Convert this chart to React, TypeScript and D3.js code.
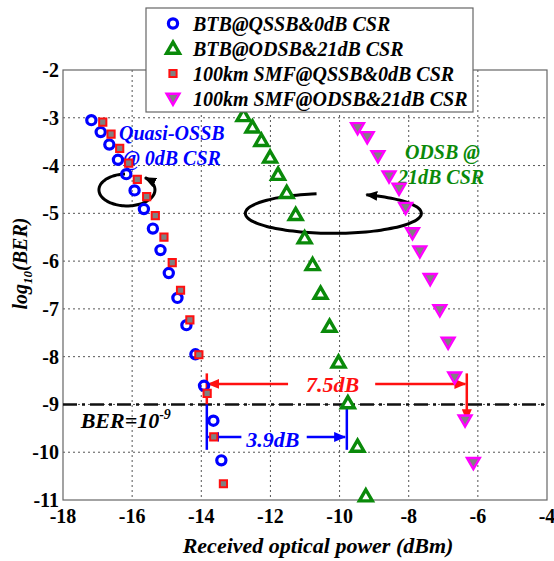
import React, { useEffect, useRef } from 'react';
import * as d3 from 'd3';

// series (x: received power dBm, y: log10 BER)
const btbQssbX = [-17.18, -16.91, -16.66, -16.41, -16.17, -15.93, -15.66, -15.4, -15.18, -14.94, -14.69, -14.43, -14.17, -13.92, -13.65, -13.42];
const btbQssbY = [-3.05, -3.3, -3.56, -3.88, -4.18, -4.52, -4.91, -5.32, -5.77, -6.25, -6.77, -7.34, -7.95, -8.61, -9.34, -10.17];

const btbOdsbX = [-12.78, -12.52, -12.26, -12.01, -11.78, -11.53, -11.27, -11.01, -10.78, -10.55, -10.29, -10.03, -9.76, -9.48, -9.24];
const btbOdsbY = [-2.96, -3.2, -3.48, -3.83, -4.19, -4.57, -5.03, -5.52, -6.08, -6.68, -7.37, -8.12, -8.97, -9.88, -10.92];

const smfQssbX = [-16.85, -16.61, -16.36, -16.1, -15.85, -15.58, -15.33, -15.08, -14.84, -14.6, -14.33, -14.07, -13.83, -13.64, -13.36];
const smfQssbY = [-3.09, -3.34, -3.64, -3.95, -4.29, -4.65, -5.05, -5.5, -6.03, -6.61, -7.23, -7.96, -8.77, -9.68, -10.66];

const smfOdsbX = [-9.48, -9.2, -8.89, -8.57, -8.28, -8.09, -7.89, -7.68, -7.38, -7.1, -6.86, -6.67, -6.37, -6.13];
const smfOdsbY = [-3.21, -3.4, -3.8, -4.22, -4.48, -4.88, -5.41, -5.79, -6.37, -7.02, -7.7, -8.43, -9.33, -10.22];

const xTicks = [-18, -16, -14, -12, -10, -8, -6, -4];
const yTicks = [-2, -3, -4, -5, -6, -7, -8, -9, -10, -11];

const legendLabels = [
  'BTB@QSSB&0dB CSR',
  'BTB@ODSB&21dB CSR',
  '100km SMF@QSSB&0dB CSR',
  '100km SMF@ODSB&21dB CSR',
];

const FONT = '"Liberation Serif", "Times New Roman", serif';
const BLUE = '#0000ff';
const GREEN = '#0a8a0a';
const RED = '#ff1010';
const MAGENTA = '#ff00ff';
const GRAY = '#808080';

const App = () => {
  const svgRef = useRef();

  useEffect(() => {
    const svg = d3.select(svgRef.current);
    svg.selectAll('*').remove();

    const left = 63, right = 547, top = 70, bottom = 500;
    const x = d3.scaleLinear().domain([-18, -4]).range([left, right]);
    const y = d3.scaleLinear().domain([-11, -2]).range([bottom, top]);

    // arrow heads
    const defs = svg.append('defs');
    [['arrRed', RED], ['arrBlue', BLUE], ['arrBlack', '#000']].forEach(([id, c]) => {
      defs.append('marker')
        .attr('id', id)
        .attr('viewBox', '0 0 12 10')
        .attr('refX', 11).attr('refY', 5)
        .attr('markerWidth', 12).attr('markerHeight', 10)
        .attr('markerUnits', 'userSpaceOnUse')
        .attr('orient', 'auto')
        .append('path')
        .attr('d', 'M0,0 L12,5 L0,10 Z')
        .attr('fill', c);
    });

    svg.append('rect')
      .attr('x', 0).attr('y', 0).attr('width', 554).attr('height', 561)
      .attr('fill', '#fff');

    // grid
    const grid = svg.append('g')
      .attr('stroke', '#555').attr('stroke-width', 1).attr('stroke-dasharray', '2,3');
    xTicks.slice(1, -1).forEach(t => {
      grid.append('line')
        .attr('x1', x(t)).attr('x2', x(t)).attr('y1', top).attr('y2', bottom);
    });
    yTicks.slice(1, -1).forEach(t => {
      grid.append('line')
        .attr('x1', left).attr('x2', right).attr('y1', y(t)).attr('y2', y(t));
    });

    // frame
    svg.append('rect')
      .attr('x', left).attr('y', top)
      .attr('width', right - left).attr('height', bottom - top)
      .attr('fill', 'none').attr('stroke', '#666').attr('stroke-width', 1.2);

    // tick labels
    svg.append('g').selectAll('text')
      .data(xTicks).enter().append('text')
      .attr('x', d => x(d)).attr('y', bottom + 23)
      .attr('text-anchor', 'middle')
      .attr('font-family', FONT).attr('font-weight', 'bold').attr('font-size', 20)
      .text(d => d);
    svg.append('g').selectAll('text')
      .data(yTicks).enter().append('text')
      .attr('x', left - 4).attr('y', d => y(d) + 7)
      .attr('text-anchor', 'end')
      .attr('font-family', FONT).attr('font-weight', 'bold').attr('font-size', 20)
      .text(d => d);

    // axis titles
    svg.append('text')
      .attr('x', 318).attr('y', 553)
      .attr('text-anchor', 'middle')
      .attr('font-family', FONT).attr('font-weight', 'bold').attr('font-style', 'italic')
      .attr('font-size', 22)
      .text('Received optical power (dBm)');
    const yl = svg.append('text')
      .attr('transform', `translate(27, ${y(-6.05)}) rotate(-90)`)
      .attr('text-anchor', 'middle')
      .attr('font-family', FONT).attr('font-weight', 'bold').attr('font-style', 'italic')
      .attr('font-size', 20);
    yl.append('tspan').text('log');
    yl.append('tspan').attr('font-size', 13).attr('dy', 5).text('10');
    yl.append('tspan').attr('dy', -5).text('(BER)');

    // BER = 1e-9 line
    svg.append('line')
      .attr('x1', left).attr('x2', right).attr('y1', y(-9)).attr('y2', y(-9))
      .attr('stroke', '#111').attr('stroke-width', 2.6)
      .attr('stroke-dasharray', '14,5,3,5');
    const ber = svg.append('text')
      .attr('x', x(-17.49)).attr('y', y(-9.49))
      .attr('font-family', FONT).attr('font-weight', 'bold').attr('font-style', 'italic')
      .attr('font-size', 22);
    ber.append('tspan').text('BER=10');
    ber.append('tspan').attr('font-size', 14).attr('dy', -9).text('-9');

    // power penalty arrows
    const seg = (x1, y1, x2, y2, c, mk) => {
      const l = svg.append('line')
        .attr('x1', x(x1)).attr('y1', y(y1)).attr('x2', x(x2)).attr('y2', y(y2))
        .attr('stroke', c).attr('stroke-width', 2.5);
      if (mk) l.attr('marker-end', `url(#${mk})`);
    };
    seg(-13.84, -8.35, -13.84, -9.0, RED);
    seg(-11.49, -8.57, -13.8, -8.57, RED, 'arrRed');
    seg(-8.97, -8.57, -6.36, -8.57, RED, 'arrRed');
    seg(-6.32, -8.35, -6.32, -9.33, RED, 'arrRed');
    seg(-13.84, -9.0, -13.84, -9.95, BLUE);
    seg(-9.79, -9.0, -9.79, -9.95, BLUE);
    seg(-12.84, -9.68, -13.8, -9.68, BLUE, 'arrBlue');
    seg(-10.95, -9.68, -9.84, -9.68, BLUE, 'arrBlue');

    const label = (tx, ty, str, c, size, anchor = 'start') => {
      svg.append('text')
        .attr('x', x(tx)).attr('y', y(ty))
        .attr('text-anchor', anchor)
        .attr('font-family', FONT).attr('font-weight', 'bold').attr('font-style', 'italic')
        .attr('font-size', size).attr('fill', c)
        .text(str);
    };
    label(-10.2, -8.74, '7.5dB', RED, 22, 'middle');
    label(-11.93, -9.89, '3.9dB', BLUE, 22, 'middle');
    label(-16.38, -3.47, 'Quasi-OSSB', BLUE, 20);
    label(-16.26, -3.99, '@ 0dB CSR', BLUE, 20);
    label(-8.11, -3.87, 'ODSB @', GREEN, 20);
    label(-8.31, -4.39, '21dB CSR', GREEN, 20);

    // curled arrows
    const loop = (cx, cy, rx, ry, a0, a1) => {
      const pts = d3.range(0, 61).map(i => {
        const a = (a0 + (a1 - a0) * i / 60) * Math.PI / 180;
        return [x(cx) + rx * Math.cos(a), y(cy) + ry * Math.sin(a)];
      });
      svg.append('path')
        .attr('d', d3.line().curve(d3.curveCatmullRom)(pts))
        .attr('fill', 'none').attr('stroke', '#000').attr('stroke-width', 3)
        .attr('marker-end', 'url(#arrBlack)');
    };
    loop(-16.15, -4.51, 28, 16, 266, -50);
    loop(-10.18, -5.0, 88, 20, 259, -68);

    // markers
    const tri = d3.symbol(d3.symbolTriangle, 72)();
    const square = d3.symbol(d3.symbolSquare, 52)();

    const series = [
      { xs: btbQssbX, ys: btbQssbY, kind: 'circle' },
      { xs: smfQssbX, ys: smfQssbY, kind: 'square' },
      { xs: btbOdsbX, ys: btbOdsbY, kind: 'tri' },
      { xs: smfOdsbX, ys: smfOdsbY, kind: 'itri' },
    ];

    const drawMark = (g, kind, px, py) => {
      if (kind === 'circle') {
        g.append('circle').attr('cx', px).attr('cy', py).attr('r', 4.6)
          .attr('fill', 'none').attr('stroke', BLUE).attr('stroke-width', 3.2);
      } else if (kind === 'square') {
        g.append('path').attr('d', square).attr('transform', `translate(${px},${py})`)
          .attr('fill', GRAY).attr('stroke', RED).attr('stroke-width', 2);
      } else if (kind === 'tri') {
        g.append('path').attr('d', tri).attr('transform', `translate(${px},${py + 1})`)
          .attr('fill', '#fff').attr('stroke', GREEN).attr('stroke-width', 3.4)
          .attr('stroke-linejoin', 'miter');
      } else {
        g.append('path').attr('d', tri).attr('transform', `translate(${px},${py - 1}) rotate(180)`)
          .attr('fill', GRAY).attr('stroke', MAGENTA).attr('stroke-width', 2.4);
      }
    };

    const marks = svg.append('g');
    series.forEach(s => {
      s.xs.forEach((v, i) => drawMark(marks, s.kind, x(v), y(s.ys[i])));
    });

    // legend
    const lg = svg.append('g');
    lg.append('rect')
      .attr('x', 146).attr('y', 8).attr('width', 327).attr('height', 104)
      .attr('fill', '#fff').attr('stroke', '#666').attr('stroke-width', 1.2);
    const order = ['circle', 'tri', 'square', 'itri'];
    legendLabels.forEach((t, i) => {
      const cy = 23.5 + i * 25;
      drawMark(lg, order[i], 173, cy);
      lg.append('text')
        .attr('x', 193).attr('y', cy + 7)
        .attr('font-family', FONT).attr('font-weight', 'bold').attr('font-style', 'italic')
        .attr('font-size', 20)
        .text(t);
    });
  }, []);

  return (
    <svg ref={svgRef} width={554} height={561}
      style={{ position: 'absolute', left: 0, top: 0 }}></svg>
  );
};

export default App;
